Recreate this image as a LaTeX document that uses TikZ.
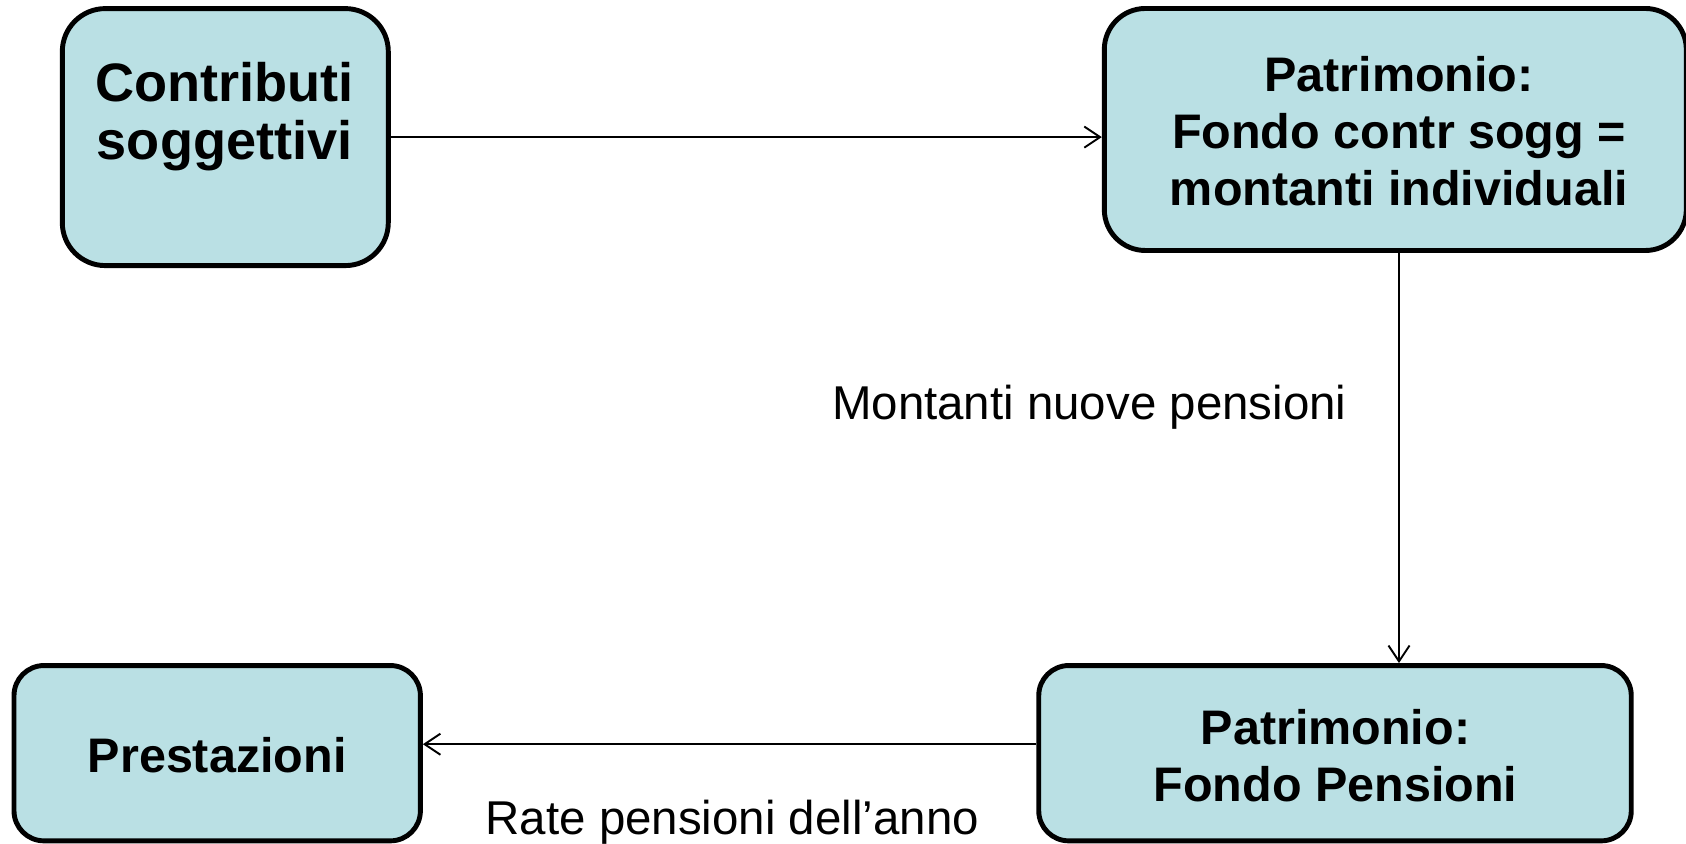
\documentclass[tikz,border=0pt]{standalone}
\usepackage{fontspec}
\setmainfont{Liberation Sans}
\usetikzlibrary{arrows.meta}
\definecolor{boxfill}{RGB}{186,224,228}

\begin{document}
\begin{tikzpicture}[
		box/.style={draw=black, line width=1.4pt, fill=boxfill, inner sep=0pt},
		boxtext/.style={align=center, font=\bfseries\fontsize{13.8}{16.2}\selectfont},
		lbl/.style={anchor=base, font=\fontsize{13.5}{16}\selectfont},
		flow/.style={-{Straight Barb[length=4.5pt,width=6pt]}, line width=0.55pt}
	]
		\useasboundingbox (0,0) rectangle (16.86,8.43);
		% boxes
		\node[box, rounded corners=0.43cm, minimum width=3.26cm, minimum height=2.57cm] (contr) at (2.253,7.059) {};
		\node[box, rounded corners=0.41cm, minimum width=5.82cm, minimum height=2.42cm] (fondo) at (13.953,7.135) {};
		\node[box, rounded corners=0.30cm, minimum width=5.925cm, minimum height=1.753cm] (pens) at (13.35,0.898) {};
		\node[box, rounded corners=0.30cm, minimum width=4.064cm, minimum height=1.753cm] (prest) at (2.172,0.898) {};
		% texts in the boxes
		\node[boxtext, font=\bfseries\fontsize{15.4}{16.5}\selectfont] (contrtxt) at (2.247,7.265) {Contributi\\soggettivi};
		\node[boxtext] (fondotxt) at (13.99,7.118) {Patrimonio:\\Fondo contr sogg =\\montanti individuali};
		\node[boxtext] (penstxt) at (13.355,0.87) {Patrimonio:\\Fondo Pensioni};
		\node[boxtext] (presttxt) at (2.172,0.88) {Prestazioni};
		% flows
		\draw[flow] (contr.east) -- (contr.east -| fondo.west);
		\draw[flow] (fondotxt |- fondo.south) -- (fondotxt |- pens.north);
		\draw[flow] ([yshift=0.09cm]pens.west) -- ([yshift=0.09cm]prest.east);
		\node[lbl] (montlbl) at (10.893,4.236) {Montanti nuove pensioni};
		\node[lbl] (ratelbl) at (7.323,0.086) {Rate pensioni dell’anno};
	\end{tikzpicture}
\end{document}
